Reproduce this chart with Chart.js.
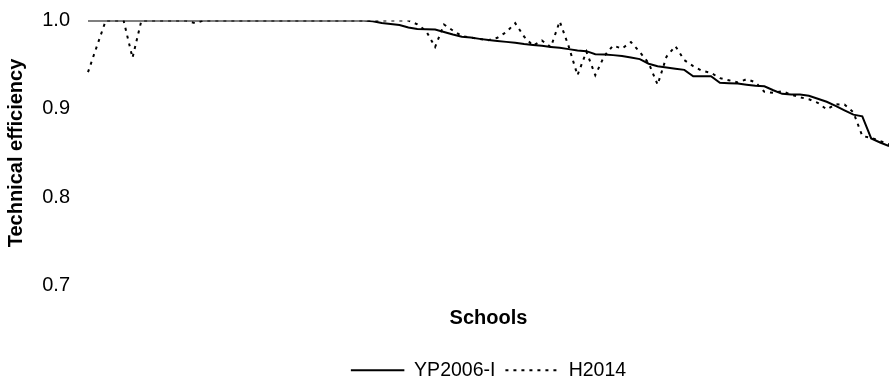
<!DOCTYPE html>
<html>
<head>
<meta charset="utf-8">
<title>Technical efficiency by school</title>
<script src="https://cdn.jsdelivr.net/npm/chart.js@4"></script>
<style>
  html, body { margin: 0; padding: 0; background: #fff; }
  #wrap { width: 889px; height: 381px; position: relative; }
</style>
</head>
<body>
<div id="wrap"><canvas id="effChart"></canvas></div>
<script>
// schools ranked by efficiency, 91 of them
const schools = [];
for (let i = 1; i <= 91; i++) schools.push(String(i));

const yTicks = [0.7, 0.8, 0.9, 1.0];

const yp2006 = [
  1.0, 1.0, 1.0, 1.0, 1.0, 1.0, 1.0, 1.0, 1.0, 1.0,
  1.0, 1.0, 1.0, 1.0, 1.0, 1.0, 1.0, 1.0, 1.0, 1.0,
  1.0, 1.0, 1.0, 1.0, 1.0, 1.0, 1.0, 1.0, 1.0, 1.0,
  1.0, 1.0, 0.9992, 0.9972, 0.9960, 0.9949, 0.9920, 0.9903, 0.9901, 0.9898,
  0.9869, 0.9841, 0.9816, 0.9807, 0.9792, 0.9778, 0.9767, 0.9758, 0.9748, 0.9733,
  0.9722, 0.9713, 0.9701, 0.9691, 0.9676, 0.9660, 0.9653, 0.9619, 0.9614, 0.9608,
  0.9597, 0.9582, 0.9563, 0.9511, 0.9483, 0.9468, 0.9455, 0.9441, 0.9369, 0.9369,
  0.9369, 0.9295, 0.9290, 0.9286, 0.9273, 0.9261, 0.9256, 0.9210, 0.9170, 0.9161,
  0.9161, 0.9148, 0.9114, 0.9080, 0.9034, 0.8983, 0.8934, 0.8915, 0.8665, 0.8619,
  0.8577
];

const h2014 = [
  0.9415, 0.971, 1.0, 1.0, 1.0, 0.9577, 1.0, 1.0, 1.0, 1.0,
  1.0, 1.0, 0.997, 1.0, 1.0, 1.0, 1.0, 1.0, 1.0, 1.0,
  1.0, 1.0, 1.0, 1.0, 1.0, 1.0, 1.0, 1.0, 1.0, 1.0,
  1.0, 1.0, 1.0, 1.0, 1.0, 1.0, 1.0, 0.9957, 0.988, 0.970,
  0.9955, 0.9886, 0.9824, 0.9807, 0.979, 0.9778, 0.9805, 0.9869, 0.997, 0.9818,
  0.9714, 0.9773, 0.9699, 0.999, 0.971, 0.938, 0.9648, 0.938, 0.9597, 0.9716,
  0.9682, 0.9756, 0.9642, 0.9517, 0.9273, 0.9591, 0.971, 0.9551, 0.9483, 0.943,
  0.9407, 0.9347, 0.9324, 0.9299, 0.9335, 0.930, 0.9193, 0.9182, 0.9199, 0.9161,
  0.9131, 0.9108, 0.9068, 0.8994, 0.9051, 0.9048, 0.896, 0.8693, 0.867, 0.8636,
  0.8597
];

Chart.defaults.font.family = "'Liberation Sans', Arial, sans-serif";
Chart.defaults.font.size = 20;
Chart.defaults.color = '#000';

new Chart(document.getElementById('effChart'), {
  type: 'line',
  data: {
    labels: schools,
    datasets: [
      {
        label: 'YP2006-I',
        data: yp2006,
        borderColor: '#000',
        borderWidth: 2,
        pointRadius: 0,
        tension: 0,
        fill: false
      },
      {
        label: 'H2014',
        data: h2014,
        borderColor: '#000',
        borderWidth: 2,
        borderDash: [3, 5],
        pointRadius: 0,
        tension: 0,
        fill: false
      }
    ]
  },
  options: {
    responsive: true,
    maintainAspectRatio: false,
    animation: false,
    layout: { padding: { top: 20.5, right: 0, bottom: -9, left: 0 } },
    plugins: {
      tooltip: { enabled: false },
      legend: {
        position: 'bottom',
        fullSize: false,
        labels: {
          // a zero-height box is stroked as a plain line sample;
          // 53.5 keeps the dashes of the out-and-back rect path on top of each other
          boxWidth: 53.5,
          boxHeight: 0,
          padding: 10,
          color: '#000',
          font: { size: 19.5 }
        }
      }
    },
    scales: {
      x: {
        type: 'category',
        offset: false,
        grid: { display: false, drawTicks: false },
        border: { display: false },
        ticks: { display: false },
        title: {
          display: true,
          text: 'Schools',
          font: { size: 20, weight: 'bold' },
          padding: { top: 21, bottom: 20 }
        }
      },
      y: {
        min: 0.7,
        max: 1.0,
        afterFit: (scale) => { scale.width = 88; },
        afterBuildTicks: (scale) => { scale.ticks = yTicks.map(v => ({ value: v })); },
        // tick marks are hidden, their length only spaces the labels off the plot
        grid: { display: false, drawTicks: true, tickLength: 18 },
        border: { display: false },
        ticks: {
          padding: 0,
          callback: (v) => Number(v).toFixed(1)
        },
        title: {
          display: true,
          text: 'Technical efficiency',
          font: { size: 20, weight: 'bold' },
          padding: { top: 4, bottom: 4 }
        }
      }
    }
  }
});
</script>
</body>
</html>
